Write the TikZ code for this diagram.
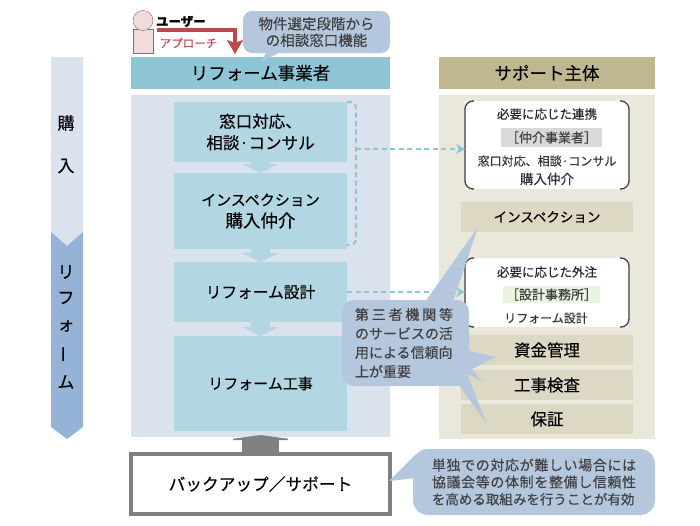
\documentclass[tikz,border=0pt]{standalone}
\usepackage{fontspec}
\usepackage{xcolor}
\setmainfont{Noto Sans CJK JP}[FakeBold=0.25]
\usetikzlibrary{arrows.meta,positioning,calc}
\definecolor{headblue}{HTML}{8FC6D5}
\definecolor{boxblue}{HTML}{B2D7E3}
\definecolor{panelblue}{HTML}{DAE2ED}
\definecolor{panelsand}{HTML}{EAE7DB}
\definecolor{headsand}{HTML}{BFB78F}
\definecolor{bandsand}{HTML}{DDD8C3}
\definecolor{calloutblue}{HTML}{B4C7DD}
\definecolor{stepdark}{HTML}{95B3D7}
\definecolor{arrowred}{HTML}{BC4B48}
\definecolor{skin}{HTML}{F2DCDB}
\newcommand{\fs}[1]{\fontsize{#1}{#1}\selectfont}

\begin{document}
\begin{tikzpicture}[
  x=1pt, y=-1pt,
  node distance=11pt and 8pt,
  base/.style={inner sep=0pt, outer sep=0pt, align=center},
  head/.style={base, minimum width=259pt, minimum height=32pt, font=\fs{17.5}},
  blue/.style={base, fill=boxblue, minimum width=173pt},
  band/.style={base, fill=bandsand, minimum width=172pt, minimum height=30pt, font=\fs{16.5}},
  need/.style={base, fill=white, minimum width=164pt},
  note/.style={base, font=\fs{12.5}, text=black!85},
  tag/.style={base, font=\fs{12}, text=black!80},
  side/.style={base, font=\fs{17}},
  bubble/.style={base, fill=calloutblue, text=black!75},
  bracket/.style={draw=black!75, line width=1.3pt, rounded corners=8pt},
  flow/.style={boxblue, line width=19pt, -{Triangle[length=9pt,width=36pt]}},
  link/.style={headblue, line width=2pt, dash pattern=on 5pt off 3.5pt}
]
\useasboundingbox (0,0) rectangle (700,525);

% process chevrons
\fill[panelblue] (51,57) -- (83,57) -- (83,232) -- (67,246) -- (51,232) -- cycle;
\fill[stepdark] (51,232) -- (67,246) -- (83,232) -- (83,427) -- (67,439) -- (51,427) -- cycle;
\node[side] (buy1) at (66,123) {購};
\node[side] (buy2) at (66,166) {入};
\node[side] (ref1) at (66,272) {リ};
\node[side] (ref2) at (66,298) {フ};
\node[side] (ref3) at (66,326) {ォ};
\node[side, rotate=90] (ref4) at (66,354) {ー};
\node[side] (ref5) at (66,382) {ム};

% panels and headers
\node[base, fill=panelblue, minimum width=259pt, minimum height=342pt] (panelL) at (260.5,266) {};
\node[base, fill=panelsand, minimum width=216pt, minimum height=344pt] (panelR) at (547,267) {};
\node[head, fill=headblue] (headL) at (260.5,73) {リフォーム事業者};
\node[head, fill=headsand, minimum width=216pt] (headR) at (547,73) {サポート主体};

% user
\node[base, draw=black!55, fill=skin, minimum width=20pt, minimum height=24pt] (body) at (143,41) {};
\node[base, draw=black!55, fill=skin, circle, minimum size=20pt] (face) at (143,20.5) {};
\node[base, font=\fs{12.5}\bfseries, right=3pt of face.east, yshift=-1pt] (user) {ユーザー};
\coordinate (appS) at (157,30);
\coordinate (appE) at (235,54);
\draw[arrowred, line width=3.5pt, -{Stealth[length=14pt,width=16pt,inset=3pt]}] (appS) -| (appE);
\node[base, font=\fs{11.5}, text=arrowred] (appr) at (188.5,43) {アプローチ};

% top callout
\fill[calloutblue] (267,50) -- (262,61) -- (285,50) -- cycle;
\node[bubble, minimum width=147pt, minimum height=42pt, rounded corners=9pt, font=\fs{14.5}] (topnote) at (316.5,32)
  {物件選定段階から\\[2pt]の相談窓口機能};

% reform steps
\node[blue, minimum height=60pt, font=\fs{16.5}] (desk) at (260.5,132) {窓口対応、\\[5pt]相談·コンサル};
\node[blue, minimum height=76pt, font=\fs{15}, below=11pt of desk] (insp) {インスペクション\\[5pt]{\fs{17.5}購入仲介}};
\node[blue, minimum height=60pt, font=\fs{15.7}, below=13pt of insp] (plan) {リフォーム設計};
\node[blue, minimum height=95pt, font=\fs{15}, below=14pt of plan] (work) {リフォーム工事};
\draw[flow] (desk.south) -- (insp.north);
\draw[flow] (insp.south) -- (plan.north);
\draw[flow] (plan.south) -- (work.north);

% support side
\node[need, minimum height=88pt] (need1) at (547,145) {};
\node[need, minimum height=69pt] (need2) at (547,292.5) {};
\foreach \n in {need1,need2}{
  \draw[bracket] ([xshift=9pt]\n.north west) -- (\n.north west) -- (\n.south west) -- ([xshift=9pt]\n.south west);
  \draw[bracket] ([xshift=-9pt]\n.north east) -- (\n.north east) -- (\n.south east) -- ([xshift=-9pt]\n.south east);
}
\node[note] (need1a) at (547,114) {必要に応じた連携};
\node[base, fill=black!15, minimum width=101pt, minimum height=19pt, font=\fs{13}, text=black!75] (agent) at (551.5,137.5) {［仲介事業者］};
\node[tag] (need1b) at (547,161) {窓口対応、相談·コンサル};
\node[tag, font=\fs{13.5}] (need1c) at (547,179) {購入仲介};
\node[note] (need2a) at (547,272) {必要に応じた外注};
\node[base, fill=green!30!olive!12, minimum width=97pt, minimum height=17pt, font=\fs{13}, text=black!75] (office) at (551.5,294.5) {［設計事務所］};
\node[tag] (need2b) at (546,318) {リフォーム設計};

\node[band, font=\fs{13.5}] (bInsp) at (547,217) {インスペクション};
\node[band] (bFund) at (547,350) {資金管理};
\node[band] (bCheck) at (547,385) {工事検査};
\node[band] (bWarr) at (547,419) {保証};

% dashed links
\coordinate (bend) at (356,149);
\draw[link, rounded corners=6pt] (desk.north east) -- (356,102) -- (356,245) -- (insp.east |- 0,245);
\draw[link, -{Stealth[length=9pt,width=10pt]}] (bend) -- (bend -| need1.west);
\draw[link, -{Stealth[length=9pt,width=10pt]}] (plan.east) -- (plan.east -| need2.west);

% middle callout
\fill[calloutblue] (425,302) -- (478,227) -- (453,302) -- cycle;
\fill[calloutblue] (465,350) -- (496,357) -- (472,369) -- (482,382) -- (467,373) -- (486,423) -- (458,384) -- cycle;
\node[bubble, minimum width=127pt, minimum height=86pt, rounded corners=12pt, text width=127pt, align=left, font=\fs{14}] (midnote) at (405.5,343)
  {\hspace*{13pt}{\addfontfeature{LetterSpace=20}第三者機関等}\\[5pt]\hspace*{13pt}のサービスの活\\[5pt]\hspace*{13pt}用による信頼向\\[5pt]\hspace*{13pt}上が重要};

% backup
\node[base, draw=black!50, line width=3.5pt, fill=white, minimum width=259pt, minimum height=60pt, font=\fs{16.7}] (backup) at (260.5,484) {バックアップ／サポート};
\draw[black!50, line width=37pt, -{Triangle[length=5pt,width=73pt]}, shorten >=-2pt] (backup.north) -- (panelL.south);

% bottom callout
\fill[calloutblue] (416,454) -- (389,481) -- (416,478) -- cycle;
\node[bubble, minimum width=242pt, minimum height=66pt, rounded corners=15pt, align=left, font=\fs{14}] (botnote) at (534,482)
  {{\addfontfeature{LetterSpace=4.5}単独での対応が難しい場合には}\\[3pt]{\addfontfeature{LetterSpace=4.5}協議会等の体制を整備し信頼性}\\[3pt]{\fs{13.5}を高める取組みを行うことが有効}};
\end{tikzpicture}
\end{document}
